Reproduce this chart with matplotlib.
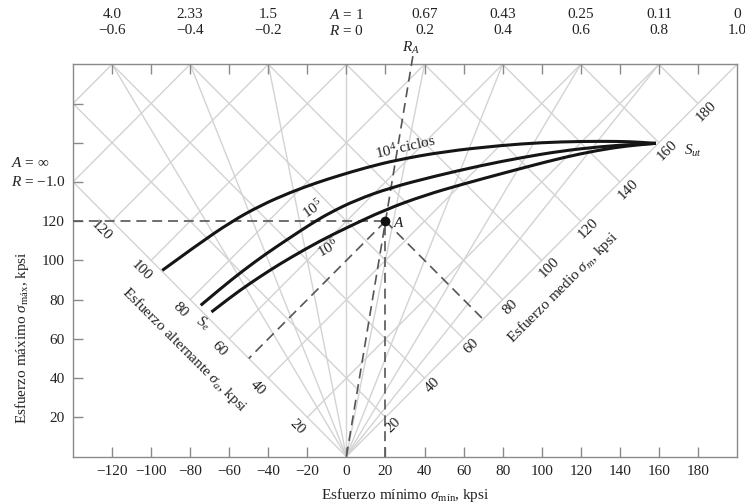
import numpy as np
import matplotlib
matplotlib.use("Agg")
import matplotlib.pyplot as plt
from matplotlib.path import Path
from matplotlib.patches import PathPatch

plt.rcParams['font.family'] = ['Liberation Serif', 'DejaVu Serif']
plt.rcParams['mathtext.fontset'] = 'custom'
plt.rcParams['mathtext.rm'] = 'Liberation Serif'
plt.rcParams['mathtext.it'] = 'Liberation Serif:italic'
plt.rcParams['axes.unicode_minus'] = True

# ---------------- data ----------------
# constant-life curves, (sigma_min, sigma_max) in kpsi
c4_min = [-94.3, -77, -58.9, -44, -29, -15, -3.3, 10, 25.7, 50, 78.7, 100, 120, 140, 150, 158.5]
c4_max = [94.9, 107.5, 119.8, 128.0, 134.6, 139.7, 143.4, 147.3, 151.2, 155.5, 158.6, 160.1, 160.7, 160.7, 160.3, 159.7]
c5_min = [-74.6, -64, -52.9, -41, -29, -18, -8.5, 5, 22.3, 45, 68.5, 90, 110, 130, 148, 158.5]
c5_max = [77.1, 86.0, 94.8, 103.5, 111.5, 118.7, 124.3, 130.8, 137.0, 142.9, 148.3, 152.5, 155.8, 158.0, 159.3, 159.7]
c6_min = [-69.1, -59, -49.5, -39, -29, -13.6, 0, 19.7, 40, 60, 80, 102.7, 119.7, 136.8, 150, 158.5]
c6_max = [73.7, 81.5, 88.2, 95.1, 101.2, 109.9, 116.6, 125.8, 133.2, 139.0, 144.4, 150.4, 154.4, 157.5, 159.0, 159.7]

# point A
A_min, A_max = 20, 120

# radial R lines and top labels
R_vals = [-0.6, -0.4, -0.2, 0.0, 0.2, 0.4, 0.6, 0.8, 1.0]
R_labels = ['\u22120.6', '\u22120.4', '\u22120.2', '$R$ = 0', '0.2', '0.4', '0.6', '0.8', '1.0']
A_labels = ['4.0', '2.33', '1.5', '$A$ = 1', '0.67', '0.43', '0.25', '0.11', '0']

# grid values for mean / alternating stress
sm_grid = [20, 40, 60, 80, 100, 120, 140, 160, 180]
sa_grid = [20, 40, 60, 80, 100, 120, 140, 160]
sm_ticklabels = [20, 40, 60, 80, 100, 120, 140, 160, 180]
sa_ticklabels = [20, 40, 60, 80, 100, 120]

x_ticks = list(range(-120, 181, 20))
y_ticks = [20, 40, 60, 80, 100, 120, 140, 160, 180]
y_ticklabels = ['20', '40', '60', '80', '100', '120', '', '', '']

XMIN, XMAX, YMIN, YMAX = -140, 200, 0, 200

# ---------------- figure ----------------
fig = plt.figure(figsize=(7.45, 5.04), dpi=100)
ax = fig.add_axes([73/745, 47.5/504, 664/745, 392.2/504])
ax.set_xlim(XMIN, XMAX)
ax.set_ylim(YMIN, YMAX)

GRID = '#d3d3d3'
TXT = '#222222'
DASH = '#555555'

# sigma_m grid lines (perpendicular to mean-stress axis)
for v in sm_grid:
    t = min(YMAX - v, v - XMIN)
    ax.plot([v, v - t], [v, v + t], color=GRID, lw=1.0, zorder=1)
# sigma_a grid lines (perpendicular to alternating-stress axis)
for v in sa_grid:
    x0, y0 = -v, v
    if x0 < XMIN:
        d = XMIN - x0
        x0, y0 = XMIN, v + d
    t = YMAX - y0
    ax.plot([x0, x0 + t], [y0, y0 + t], color=GRID, lw=1.0, zorder=1)
# axes of sigma_a and sigma_m
ax.plot([0, XMIN], [0, -XMIN], color=GRID, lw=1.0, zorder=1)
ax.plot([0, XMAX], [0, YMAX], color=GRID, lw=1.0, zorder=1)
# radial R lines
for r in R_vals[:-1]:
    ax.plot([0, r * YMAX], [0, YMAX], color=GRID, lw=1.0, zorder=1)

# dashed construction lines
dkw = dict(color=DASH, lw=1.2, dashes=(6, 3.5), zorder=3)
ax.plot([XMIN, A_min], [A_max, A_max], **dkw)
ax.plot([A_min, A_min], [0, A_max], **dkw)
RA = A_min / A_max
ax.plot([0, RA * 205], [0, 205], clip_on=False, **dkw)
sm_A = (A_min + A_max) / 2
sa_A = (A_max - A_min) / 2
ax.plot([A_min, sm_A], [A_max, sm_A], **dkw)
ax.plot([A_min, -sa_A], [A_max, sa_A], **dkw)


def smooth_path(xs, ys):
    """Quadratic Bezier path using the read points as control points."""
    pts = np.column_stack([xs, ys])
    verts = [pts[0]]
    codes = [Path.MOVETO]
    n = len(pts)
    for i in range(1, n - 1):
        end = pts[i + 1] if i == n - 2 else (pts[i] + pts[i + 1]) / 2
        verts += [pts[i], end]
        codes += [Path.CURVE3, Path.CURVE3]
    return Path(verts, codes)


for xs, ys in [(c4_min, c4_max), (c5_min, c5_max), (c6_min, c6_max)]:
    ax.add_patch(PathPatch(smooth_path(xs, ys), facecolor='none', edgecolor='#151515',
                           lw=2.2, capstyle='butt', zorder=4))

ax.plot([A_min], [A_max], 'o', color='#111111', ms=6, zorder=5)

# ticks
ax.set_xticks(x_ticks)
ax.set_xticklabels([('\u2212' + str(-v)) if v < 0 else str(v) for v in x_ticks])
ax.set_yticks(y_ticks)
ax.set_yticklabels(y_ticklabels)
ax.tick_params(axis='both', direction='in', length=7, width=1, color='#8a8a8a',
               labelsize=11, labelcolor=TXT, pad=6)
ax.tick_params(axis='x', top=True, labeltop=False)
for s in ax.spines.values():
    s.set_color('#8a8a8a')
    s.set_linewidth(1.0)

ax.set_xlabel('Esfuerzo mínimo $\\sigma_{\\mathrm{mín}}$, kpsi', fontsize=11, color=TXT, labelpad=6)
fig.text(22/745, 1 - 338/504, 'Esfuerzo máximo $\\sigma_{\\mathrm{máx}}$, kpsi', rotation=90,
         ha='center', va='center', fontsize=11, color=TXT)

# top labels
for r, al, rl in zip(R_vals, A_labels, R_labels):
    ax.text(r * YMAX, 225.2, al, ha='center', va='center', fontsize=11, color=TXT, clip_on=False)
    ax.text(r * YMAX, 217.0, rl, ha='center', va='center', fontsize=11, color=TXT, clip_on=False)
ax.text(RA * 200 - 0.5, 208.5, '$R_A$', ha='center', va='center', fontsize=11, color=TXT, clip_on=False)

# left labels for R = -1
ax.text(-171.5, 149.5, '$A$ = \u221e', ha='left', va='center', fontsize=11, color=TXT, clip_on=False)
ax.text(-171.5, 140.2, '$R$ = \u22121.0', ha='left', va='center', fontsize=11, color=TXT, clip_on=False)

# mean stress axis labels
for v in sm_ticklabels:
    ax.text(v + 4.1, v - 3.8, str(v), rotation=45, ha='center', va='center',
            fontsize=11, color=TXT, rotation_mode='anchor')
# alternating stress axis labels
for v in sa_ticklabels:
    ax.text(-v - 5.3, v - 5.0, str(v), rotation=-45, ha='center', va='center',
            fontsize=11, color=TXT, rotation_mode='anchor')

ax.text(-82.8, 54.2, 'Esfuerzo alternante $\\sigma_a$, kpsi', rotation=-45, ha='center', va='center',
        fontsize=11, color=TXT, rotation_mode='anchor')
ax.text(111, 86.3, 'Esfuerzo medio $\\sigma_m$, kpsi', rotation=45, ha='center', va='center',
        fontsize=11, color=TXT, rotation_mode='anchor')

ax.text(30.5, 157.5, '10$^4$ ciclos', rotation=13, ha='center', va='center', fontsize=11,
        color=TXT, rotation_mode='anchor')
ax.text(-17.2, 126.5, '10$^5$', rotation=35, ha='center', va='center', fontsize=11,
        color=TXT, rotation_mode='anchor')
ax.text(-9.5, 106.1, '10$^6$', rotation=30, ha='center', va='center', fontsize=11,
        color=TXT, rotation_mode='anchor')
ax.text(-73.6, 67.9, '$S_e$', rotation=-30, ha='center', va='center', fontsize=11,
        color=TXT, rotation_mode='anchor')
ax.text(177.7, 156, '$S_{ut}$', ha='center', va='center', fontsize=11, color=TXT)
ax.text(27.2, 119.3, '$A$', ha='center', va='center', fontsize=11, color=TXT)

fig.savefig('out.png', dpi=100)
